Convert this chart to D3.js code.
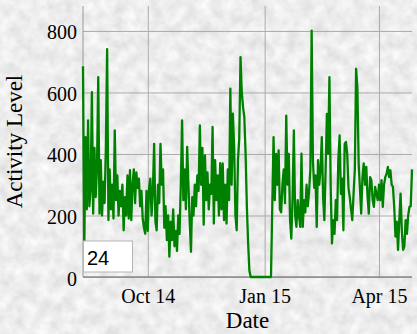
<!DOCTYPE html>
<html>
<head>
<meta charset="utf-8">
<script src="https://cdn.jsdelivr.net/npm/d3@7"></script>
<style>
  body { margin: 0; background: #d6d6d6; }
  svg { display: block; }
  .grid line { stroke: #ababab; stroke-width: 1; }
  .grid path { display: none; }
  .axis text { font-family: "Liberation Serif", "Times New Roman", serif; font-size: 20px; fill: #000; }
  .title { font-family: "Liberation Serif", "Times New Roman", serif; font-size: 23px; fill: #000; }
</style>
</head>
<body>
<svg id="chart" width="417" height="334"></svg>
<script>
// daily activity, one value per day starting at startDate
var startDate = "2014-08-11";
var activity = [
  685, 90, 455, 220, 509, 230, 280, 601, 206, 420,
  260, 350, 650, 206, 380, 200, 310, 240, 420, 741,
  185, 350, 220, 300, 190, 477, 250, 330, 200, 280,
  230, 300, 152, 260, 200, 330, 190, 347, 185, 300,
  350, 240, 340, 290, 320, 230, 280, 190, 160, 141,
  280, 150, 290, 320, 200, 280, 433, 180, 152, 300,
  240, 433, 300, 350, 160, 230, 120, 200, 66, 180,
  120, 220, 100, 150, 85, 200, 140, 300, 509, 250,
  350, 220, 423, 300, 180, 82, 260, 200, 300, 230,
  330, 280, 493, 300, 420, 170, 395, 250, 340, 220,
  300, 270, 488, 174, 380, 250, 330, 200, 370, 220,
  369, 185, 300, 174, 350, 250, 612, 300, 531, 420,
  200, 152, 380, 450, 715, 600, 552, 520, 400, 228,
  110, 20, 0, 0, 0, 0, 0, 0, 0, 0,
  0, 0, 0, 0, 0, 0, 0, 0, 0, 228,
  455, 250, 400, 300, 412, 220, 210, 300, 350, 240,
  525, 300, 400, 185, 125, 260, 477, 200, 163, 250,
  200, 163, 401, 163, 250, 210, 300, 230, 280, 350,
  801, 380, 290, 330, 163, 380, 300, 350, 455, 260,
  185, 350, 530, 400, 650, 290, 109, 185, 140, 250,
  185, 380, 460, 270, 320, 152, 433, 439, 400, 290,
  260, 220, 185, 270, 350, 677, 615, 370, 290, 206,
  325, 369, 300, 358, 260, 206, 325, 315, 250, 228,
  293, 271, 250, 300, 250, 315, 228, 300, 325, 336,
  358, 325, 347, 300, 293, 228, 131, 180, 88, 185,
  271, 150, 88, 100, 185, 140, 200, 228, 230, 350
];
var yTicks = [0, 200, 400, 600, 800];
var windowSize = "24";

var svg = d3.select("#chart"),
    width = +svg.attr("width"),
    height = +svg.attr("height"),
    margin = {top: 6, right: 5, bottom: 57, left: 83},
    w = width - margin.left - margin.right,
    h = height - margin.top - margin.bottom;

// paper-like background
var defs = svg.append("defs");
var f = defs.append("filter").attr("id", "paper")
    .attr("x", 0).attr("y", 0).attr("width", "100%").attr("height", "100%");
f.append("feTurbulence").attr("type", "fractalNoise")
    .attr("baseFrequency", "0.08").attr("numOctaves", 3).attr("seed", 7);
f.append("feColorMatrix").attr("type", "matrix")
    .attr("values", "0.34 0 0 0 0.68  0.34 0 0 0 0.68  0.34 0 0 0 0.68  0 0 0 0 1");
svg.append("rect").attr("width", width).attr("height", height).attr("filter", "url(#paper)");

var parse = d3.timeParse("%Y-%m-%d");
var t0 = parse(startDate);
var data = activity.map(function(v, i) { return {date: d3.timeDay.offset(t0, i), value: v}; });

var x = d3.scaleTime()
    .domain(d3.extent(data, function(d) { return d.date; }))
    .range([0, w]);
var y = d3.scaleLinear()
    .domain([0, d3.max(activity) * 1.1])
    .range([h, 0]);

var g = svg.append("g").attr("transform", "translate(" + margin.left + "," + margin.top + ")");

g.append("g").attr("class", "grid")
    .call(d3.axisLeft(y).tickValues(yTicks).tickSize(-w).tickFormat(""));
g.append("g").attr("class", "grid")
    .attr("transform", "translate(0," + h + ")")
    .call(d3.axisBottom(x).ticks(d3.timeMonth.every(3)).tickSize(-h).tickFormat(""));

// axis lines
g.append("line").attr("x1", 0).attr("x2", 0).attr("y1", 0).attr("y2", h)
    .attr("stroke", "#9a9a9a");
g.append("line").attr("x1", 0).attr("x2", w).attr("y1", h).attr("y2", h)
    .attr("stroke", "#8a8a8a").attr("stroke-width", 1.5);

var yAxis = g.append("g").attr("class", "axis")
    .call(d3.axisLeft(y).tickValues(yTicks).tickSize(0).tickPadding(6));
yAxis.select(".domain").remove();
yAxis.selectAll("text").attr("dy", "0.4em");

var xAxis = g.append("g").attr("class", "axis")
    .attr("transform", "translate(0," + h + ")")
    .call(d3.axisBottom(x).ticks(d3.timeMonth.every(3)).tickFormat(d3.timeFormat("%b %y")).tickSize(0).tickPadding(12));
xAxis.select(".domain").remove();

var line = d3.line()
    .x(function(d) { return x(d.date); })
    .y(function(d) { return y(d.value); });

g.append("path").datum(data)
    .attr("fill", "none")
    .attr("stroke", "green")
    .attr("stroke-width", 2.3)
    .attr("stroke-linejoin", "round")
    .attr("d", line);

// window size box
var box = g.append("g").attr("transform", "translate(0," + (h - 36) + ")");
box.append("rect").attr("x", 0.5).attr("y", 0).attr("width", 49).attr("height", 31)
    .attr("fill", "#fff").attr("stroke", "#b5b5b5");
box.append("text").attr("x", 4).attr("y", 24)
    .attr("font-family", "'Liberation Sans', Arial, sans-serif").attr("font-size", 20)
    .text(windowSize);

svg.append("text").attr("class", "title")
    .attr("text-anchor", "middle")
    .attr("x", margin.left + w / 2).attr("y", height - 6)
    .text("Date");
svg.append("text").attr("class", "title")
    .attr("text-anchor", "middle")
    .attr("transform", "translate(22," + (margin.top + h / 2) + ") rotate(-90)")
    .text("Activity Level");
</script>
</body>
</html>
